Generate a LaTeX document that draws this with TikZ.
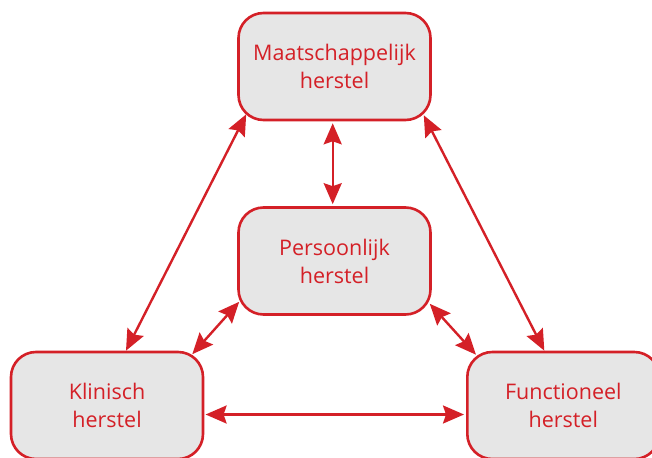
\documentclass[tikz,border=0pt]{standalone}
\usepackage{fontspec}
\setmainfont{Open Sans}
\usetikzlibrary{arrows.meta,calc}
\definecolor{hred}{HTML}{D42027}
\definecolor{hgray}{HTML}{E6E6E6}
\tikzset{
  pillar/.style={draw=hred, fill=hgray, line width=2.6pt, rounded corners=25pt,
    minimum width=192pt, minimum height=107pt, inner sep=0pt,
    text=hred, align=center, font=\fontsize{21.5}{28}\selectfont},
  link/.style={draw=hred, line width=2.4pt,
    {Stealth[length=21pt,width=18pt,inset=3pt]}-{Stealth[length=21pt,width=18pt,inset=3pt]}}
}
\begin{document}
\begin{tikzpicture}[x=1pt,y=-1pt]
  \useasboundingbox (0,0) rectangle (652,457);
  % the four kinds of recovery
  \node[pillar] (maat) at (334.5,66.5) {Maatschappelijk\\herstel};
  \node[pillar] (pers) at (334.5,261) {Persoonlijk\\herstel};
  \node[pillar] (klin) at (107,405.5) {Klinisch\\herstel};
  \node[pillar] (func) at (563.3,405.5) {Functioneel\\herstel};
  % two-way relations
  \draw[link] ($(maat.south)+(-1.8,2)$) -- ($(pers.north)+(-1.8,-2)$);
  \draw[link] ($(maat.south west)+(9,-7)$) -- ($(klin.north)+(19,0)$);
  \draw[link] ($(maat.south east)+(-8,-6)$) -- ($(func.north)+(-19,0)$);
  \draw[link] ($(pers.south west)+(2,-14)$) -- ($(klin.north east)+(-12,3.5)$);
  \draw[link] ($(pers.south east)+(-2,-12)$) -- ($(func.north west)+(10,4)$);
  \draw[link] ($(klin.east)+(1.3,9)$) -- ($(func.west)+(-2,9)$);
\end{tikzpicture}
\end{document}
